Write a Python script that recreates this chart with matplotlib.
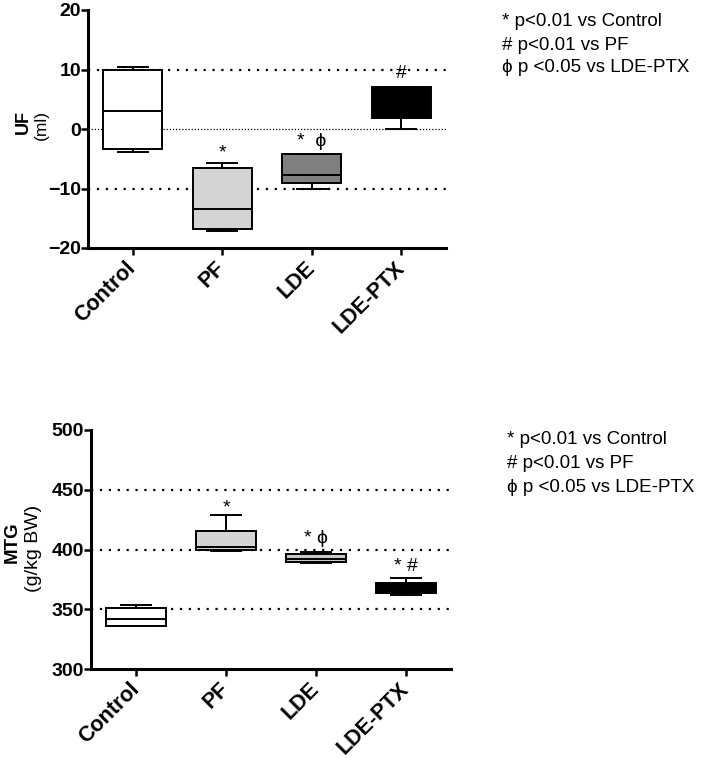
import matplotlib
matplotlib.use('Agg')
import matplotlib.pyplot as plt

plt.rcParams['font.family'] = ['Liberation Sans', 'DejaVu Sans']

groups = ['Control', 'PF', 'LDE', 'LDE-PTX']

# UF (ml)
uf_whislo = [-3.8, -17.1, -10.1, 0.0]
uf_q1 = [-3.4, -16.8, -9.1, 1.9]
uf_med = [3.0, -13.4, -7.7, 4.5]
uf_q3 = [10.0, -6.5, -4.2, 7.0]
uf_whishi = [10.5, -5.7, -4.2, 7.0]
uf_colors = ['white', '#d4d4d4', '#808080', 'black']
uf_marks = ['', '*', '*  \u03d5', '#']
uf_mark_y = [None, -4.0, -2.1, 9.4]

# MTG (g/kg BW)
mtg_whislo = [336.2, 398.5, 389.0, 362.0]
mtg_q1 = [336.2, 399.3, 389.8, 363.8]
mtg_med = [341.6, 401.8, 392.0, 368.0]
mtg_q3 = [351.3, 415.7, 396.2, 372.2]
mtg_whishi = [353.6, 429.1, 397.6, 376.4]
mtg_colors = ['white', '#d4d4d4', '#c8c8c8', 'black']
mtg_marks = ['', '*', '* \u03d5', '* #']
mtg_mark_y = [None, 434.4, 409.4, 385.6]

legend_lines = ['* p<0.01 vs Control', '# p<0.01 vs PF', '\u03d5 p <0.05 vs LDE-PTX']

W, H = 705, 758
fig = plt.figure(figsize=(W / 100, H / 100), dpi=100)


def px(x, y):
    return x / W, 1 - y / H


def panel(rect, lo, q1, med, q3, hi, colors, marks, mark_y, ylim, yticks, grid, fine):
    ax = fig.add_axes(rect)
    stats = []
    for i in range(len(groups)):
        stats.append({'whislo': lo[i], 'q1': q1[i], 'med': med[i], 'q3': q3[i],
                      'whishi': hi[i], 'fliers': []})
    bp = ax.bxp(stats, positions=range(len(groups)), widths=0.66, capwidths=0.34,
                patch_artist=True, showfliers=False,
                boxprops=dict(linewidth=1.4, edgecolor='black'),
                medianprops=dict(color='black', linewidth=1.4),
                whiskerprops=dict(linewidth=1.4, color='black'),
                capprops=dict(linewidth=1.4, color='black'), zorder=3)
    for b, c in zip(bp['boxes'], colors):
        b.set_facecolor(c)
    for g in grid:
        ax.axhline(g, color='black', lw=1.6, ls=(0, (1, 3)), zorder=1)
    for g in fine:
        ax.axhline(g, color='black', lw=0.9, ls=(0, (1, 1.5)), zorder=1)
    for i, (m, y) in enumerate(zip(marks, mark_y)):
        if m:
            ax.text(i, y, m, ha='center', va='center', fontsize=14,
                    family=['Liberation Sans', 'DejaVu Sans'], zorder=4)
    ax.set_xlim(-0.5, 3.5)
    ax.set_ylim(*ylim)
    ax.set_yticks(yticks)
    ax.set_xticks(range(len(groups)))
    ax.set_xticklabels(groups, rotation=45, ha='right', va='center',
                       rotation_mode='anchor', fontsize=15.5, fontweight='bold')
    for lab in ax.get_yticklabels():
        lab.set_fontweight('bold')
        lab.set_fontsize(14)
    for s in ['top', 'right']:
        ax.spines[s].set_visible(False)
    for s in ['left', 'bottom']:
        ax.spines[s].set_linewidth(2.2)
    ax.tick_params(axis='both', width=1.8, length=5, pad=0)
    ax.tick_params(axis='x', pad=7)
    ax.patch.set_alpha(0)
    return ax


x0, y0 = px(88, 248)
x1, y1 = px(446, 10)
panel([x0, y0, x1 - x0, y1 - y0], uf_whislo, uf_q1, uf_med, uf_q3, uf_whishi,
      uf_colors, uf_marks, uf_mark_y, (-20, 20), [-20, -10, 0, 10, 20], [-10, 10], [0])

x0, y0 = px(91, 669)
x1, y1 = px(451, 430)
panel([x0, y0, x1 - x0, y1 - y0], mtg_whislo, mtg_q1, mtg_med, mtg_q3, mtg_whishi,
      mtg_colors, mtg_marks, mtg_mark_y, (300, 500), [300, 350, 400, 450, 500],
      [350, 400, 450], [])

fig.text(*px(23, 122), 'UF', rotation=90, ha='center', va='center', fontsize=13, fontweight='bold')
fig.text(*px(41, 125), '(ml)', rotation=90, ha='center', va='center', fontsize=12.5)
fig.text(*px(12, 542), 'MTG', rotation=90, ha='center', va='center', fontsize=13.5, fontweight='bold')
fig.text(*px(34, 548), '(g/kg BW)', rotation=90, ha='center', va='center', fontsize=14)

for i, t in enumerate(legend_lines):
    fig.text(*px(502, 22 + 23 * i), t, ha='left', va='center', fontsize=13.5)
    fig.text(*px(507, 440 + 24 * i), t, ha='left', va='center', fontsize=13.5)

fig.savefig('out.png', dpi=100)
